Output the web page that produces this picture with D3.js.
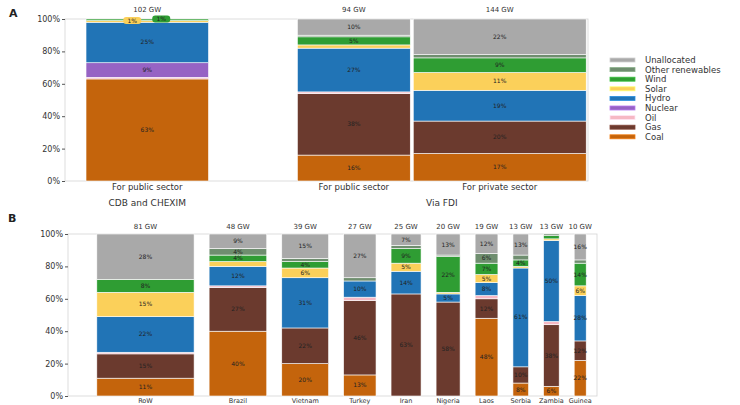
<!DOCTYPE html>
<html>
<head>
<meta charset="utf-8">
<script src="https://cdn.jsdelivr.net/npm/d3@7"></script>
<style>
  html, body { margin: 0; padding: 0; background: #fff; }
  svg { display: block; font-family: "DejaVu Sans", sans-serif; }
</style>
</head>
<body>
<svg id="chart" width="740" height="405"></svg>
<script>
// Energy source shares (%), stacked bottom to top
const seriesNames = ["Coal", "Gas", "Oil", "Nuclear", "Hydro", "Solar", "Wind", "Other renewables", "Unallocated"];
const seriesColors = ["#c4640c", "#6b3a2e", "#f6b8c4", "#9663c4", "#2174b6", "#fbd05a", "#2f9d33", "#6f8e6f", "#a9a9a9"];

// Panel A: finance channel
const aBars = ["For public sector", "For public sector", "For private sector"];
const aGroups = ["CDB and CHEXIM", "Via FDI"];
const aGroupOf = [0, 1, 1];
const aCapacity = [102, 94, 144];
const coalA = [63, 16, 17];
const gasA = [0, 38, 20];
const oilA = [1, 1, 0];
const nuclearA = [9, 0, 0];
const hydroA = [25, 27, 19];
const solarA = [1, 2, 11];
const windA = [1, 5, 9];
const otherA = [0, 1, 2];
const unallocA = [0, 10, 22];

// Panel B: host economies
const bCats = ["RoW", "Brazil", "Vietnam", "Turkey", "Iran", "Nigeria", "Laos", "Serbia", "Zambia", "Guinea"];
const bCapacity = [81, 48, 39, 27, 25, 20, 19, 13, 13, 10];
const coalB = [11, 40, 20, 13, 0, 0, 48, 8, 6, 22];
const gasB = [15, 27, 22, 46, 63, 58, 12, 10, 38, 12];
const oilB = [1, 1, 0, 2, 0, 0, 2, 0, 2, 0];
const nuclearB = [0, 0, 0, 0, 0, 0, 0, 0, 0, 0];
const hydroB = [22, 12, 31, 10, 14, 5, 8, 61, 50, 28];
const solarB = [15, 3, 6, 0, 5, 1, 5, 1, 1, 6];
const windB = [8, 4, 4, 0, 9, 22, 7, 4, 2, 14];
const otherB = [0, 4, 2, 2, 2, 1, 6, 3, 1, 2];
const unallocB = [28, 9, 15, 27, 7, 13, 12, 13, 0, 16];

const yTicks = [0, 20, 40, 60, 80, 100];

const valuesA = [coalA, gasA, oilA, nuclearA, hydroA, solarA, windA, otherA, unallocA];
const valuesB = [coalB, gasB, oilB, nuclearB, hydroB, solarB, windB, otherB, unallocB];

const svg = d3.select("#chart");
const color = d3.scaleOrdinal(seriesNames, seriesColors);

// Lay bars out along a capacity axis: bar widths follow capacity, with spacing between them
function layout(caps, lead, gaps, trail) {
  let pos = lead;
  const out = caps.map((c, i) => {
    const x0 = pos;
    pos += c + (i < caps.length - 1 ? gaps[i] : 0);
    return { x0, x1: x0 + c };
  });
  return { bars: out, total: pos + trail };
}

function buildRows(values, n) {
  return d3.range(n).map(i => {
    const row = {};
    seriesNames.forEach((s, k) => row[s] = values[k][i]);
    return row;
  });
}

function drawPanel(opts) {
  const { rows, cats, caps, lay, xRange, yRange, topLabels } = opts;
  const x = d3.scaleLinear([0, lay.total], xRange);
  const y = d3.scaleLinear([0, 100], yRange);
  const g = svg.append("g");

  // frame
  g.append("rect")
    .attr("x", xRange[0]).attr("y", yRange[1])
    .attr("width", xRange[1] - xRange[0]).attr("height", yRange[0] - yRange[1])
    .attr("fill", "none").attr("stroke", "#d4d4d4").attr("stroke-width", 0.8);

  const stack = d3.stack().keys(seriesNames)(rows);

  const layers = g.selectAll("g.layer").data(stack).join("g")
    .attr("class", "layer").attr("fill", d => color(d.key));

  layers.selectAll("rect").data(d => d.map((v, i) => ({ v, i, key: d.key })))
    .join("rect")
    .attr("x", d => x(lay.bars[d.i].x0))
    .attr("width", d => x(lay.bars[d.i].x1) - x(lay.bars[d.i].x0))
    .attr("y", d => y(d.v[1]))
    .attr("height", d => Math.max(0, y(d.v[0]) - y(d.v[1])))
    .attr("stroke", "#fff").attr("stroke-width", 0.6);

  // share labels on segments
  const labs = [];
  stack.forEach(layer => layer.forEach((v, i) => {
    const val = v[1] - v[0];
    if (val >= 4) labs.push({ val, i, ym: (v[0] + v[1]) / 2 });
  }));
  g.selectAll("text.seg").data(labs).join("text")
    .attr("class", "seg")
    .attr("x", d => x((lay.bars[d.i].x0 + lay.bars[d.i].x1) / 2))
    .attr("y", d => y(d.ym) + 2)
    .attr("text-anchor", "middle")
    .attr("font-size", 6).attr("fill", "#222")
    .text(d => d.val + "%");

  // y axis
  const yAxis = d3.axisLeft(y).tickValues(yTicks).tickFormat(d => d + "%").tickSize(3).tickPadding(2);
  const ya = g.append("g").attr("transform", `translate(${xRange[0]},0)`).call(yAxis);
  ya.select(".domain").remove();
  ya.selectAll("line").attr("stroke", "#555");
  ya.selectAll("text").attr("font-size", 8).attr("fill", "#333").attr("font-family", "DejaVu Sans");

  // category labels under bars
  g.selectAll("text.cat").data(cats).join("text")
    .attr("class", "cat")
    .attr("x", (d, i) => x((lay.bars[i].x0 + lay.bars[i].x1) / 2))
    .attr("y", yRange[0] + opts.catDy)
    .attr("text-anchor", "middle")
    .attr("font-size", opts.catSize).attr("fill", "#333")
    .text(d => d);

  // capacity labels over bars
  g.selectAll("text.cap").data(caps).join("text")
    .attr("class", "cap")
    .attr("x", (d, i) => x((lay.bars[i].x0 + lay.bars[i].x1) / 2))
    .attr("y", yRange[1] - opts.capDy)
    .attr("text-anchor", "middle")
    .attr("font-size", 7).attr("fill", "#333")
    .text(d => d + " GW");

  return { x, y, g };
}

// ---- Panel A ----
const layA = layout(aCapacity, 17.5, [74, 2.5], 1.5);
const pA = drawPanel({
  rows: buildRows(valuesA, aBars.length), cats: aBars, caps: aCapacity, lay: layA,
  xRange: [65, 588], yRange: [181, 19], catSize: 8.5, catDy: 9, capDy: 7
});

// callouts for the thin solar and wind slices at the top of the first bar
const calloutSeries = ["Solar", "Wind"];
const calloutShift = [-15, 14];
calloutSeries.forEach((s, j) => {
  const k = seriesNames.indexOf(s);
  const val = valuesA[k][0];
  const b = layA.bars[0];
  const cx = pA.x((b.x0 + b.x1) / 2) + calloutShift[j];
  const cy = pA.y(100) + (j === 0 ? 1.5 : 0);
  pA.g.append("rect")
    .attr("x", cx - 9).attr("y", cy - 3.5).attr("width", 18).attr("height", 7)
    .attr("rx", 3).attr("fill", color(s));
  pA.g.append("text")
    .attr("x", cx).attr("y", cy + 2).attr("text-anchor", "middle")
    .attr("font-size", 6).attr("fill", "#222").text(val + "%");
});

// group labels
const groupCenters = aGroups.map((g, gi) => {
  const idx = d3.range(aBars.length).filter(i => aGroupOf[i] === gi);
  const x0 = d3.min(idx, i => layA.bars[i].x0), x1 = d3.max(idx, i => layA.bars[i].x1);
  return pA.x((x0 + x1) / 2);
});
svg.selectAll("text.grp").data(aGroups).join("text")
  .attr("class", "grp")
  .attr("x", (d, i) => groupCenters[i]).attr("y", 206)
  .attr("text-anchor", "middle").attr("font-size", 9).attr("fill", "#333")
  .text(d => d);

// ---- Panel B ----
const layB = layout(bCapacity, 24, d3.range(bCapacity.length - 1).map(() => 12.5), 9);
drawPanel({
  rows: buildRows(valuesB, bCats.length), cats: bCats, caps: bCapacity, lay: layB,
  xRange: [68, 597], yRange: [396, 234], catSize: 6.5, catDy: 6.5, capDy: 5
});

// panel letters
svg.append("text").attr("x", 9).attr("y", 17).attr("font-size", 11).attr("font-weight", "bold").attr("fill", "#222").text("A");
svg.append("text").attr("x", 8).attr("y", 222).attr("font-size", 11).attr("font-weight", "bold").attr("fill", "#222").text("B");

// ---- Legend (top of stack first) ----
const legendOrder = seriesNames.slice().reverse();
const lg = svg.append("g").attr("transform", "translate(610,60)");
const li = lg.selectAll("g").data(legendOrder).join("g")
  .attr("transform", (d, i) => `translate(0,${i * 9.6})`);
li.append("rect").attr("x", 0).attr("y", -2).attr("width", 25).attr("height", 4)
  .attr("fill", d => color(d)).attr("stroke", d => d3.color(color(d)).brighter(0.6)).attr("stroke-width", 0.8);
li.append("text").attr("x", 35).attr("y", 3).attr("font-size", 8.5).attr("fill", "#333").text(d => d);
</script>
</body>
</html>
